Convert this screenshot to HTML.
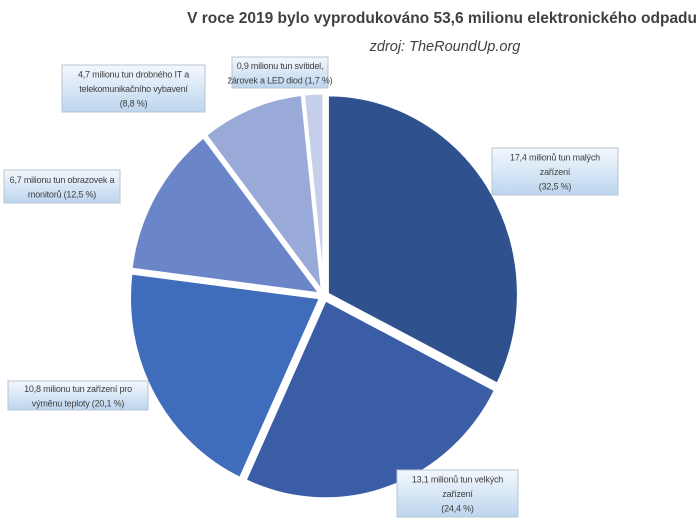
<!DOCTYPE html>
<html><head><meta charset="utf-8"><style>
body{margin:0;background:#fff;}
svg{display:block;font-family:"Liberation Sans",sans-serif;}
</style></head><body>
<svg id="chart" width="700" height="526" viewBox="0 0 700 526">
<defs><linearGradient id="lg" x1="0" y1="0" x2="0" y2="1"><stop offset="0" stop-color="#f4f8fd"/><stop offset="1" stop-color="#bcd5ee"/></linearGradient></defs>
<text x="697" y="23" text-anchor="end" font-size="15.5" font-weight="bold" fill="#404040">V roce 2019 bylo vyprodukováno 53,6 milionu elektronického odpadu</text>
<text x="445" y="51" text-anchor="middle" font-size="14.5" font-style="italic" fill="#404040">zdroj: TheRoundUp.org</text>
<g id="slices"></g>
<g id="labels"></g>
</svg>
<script>
const categories=["17,4 milionů tun malých zařízení","13,1 milionů tun velkých zařízení","10,8 milionu tun zařízení pro výměnu teploty","6,7 milionu tun obrazovek a monitorů","4,7 milionu tun drobného IT a telekomunikačního vybavení","0,9 milionu tun svítidel, žárovek a LED diod"];
const values=[32.5,24.4,20.1,12.5,8.8,1.7];
const colors=["#2f528f","#3a5da6","#406dbb","#6b86c8","#9aaad8","#c5cfe9"];
const labelLines=[["17,4 milionů tun malých","zařízení","(32,5 %)"],["13,1 milionů tun velkých","zařízení","(24,4 %)"],["10,8 milionu tun zařízení pro","výměnu teploty (20,1 %)"],["6,7 milionu tun obrazovek a","monitorů (12,5 %)"],["4,7 milionu tun drobného IT a","telekomunikačního vybavení","(8,8 %)"],["0,9 milionu tun svítidel,","žárovek a LED diod (1,7 %)"]];
const boxes=[[492,148,126,47],[397,470,121,47],[8,381,140,29],[4,170,116,33],[62,65,143,47],[232,57,96,31]];
const cx=324,cy=296,rx=191,ry=199,ex=4;
const NS="http://www.w3.org/2000/svg";
const total=values.reduce((a,b)=>a+b,0);
let a0=-Math.PI/2;
const gs=document.getElementById('slices'),gl=document.getElementById('labels');
values.forEach((v,i)=>{
  const a1=a0+v/total*2*Math.PI, am=(a0+a1)/2;
  const ox=cx+ex*Math.cos(am), oy=cy+ex*Math.sin(am);
  const x0=ox+rx*Math.cos(a0),y0=oy+ry*Math.sin(a0),x1=ox+rx*Math.cos(a1),y1=oy+ry*Math.sin(a1);
  const p=document.createElementNS(NS,'path');
  p.setAttribute('d',`M${ox},${oy}L${x0},${y0}A${rx},${ry} 0 ${a1-a0>Math.PI?1:0} 1 ${x1},${y1}Z`);
  p.setAttribute('fill',colors[i]);p.setAttribute('stroke','#fff');p.setAttribute('stroke-width','3');
  
  
  gs.appendChild(p);
  const b=boxes[i];
  const g=document.createElementNS(NS,'g');
  
  
  const r=document.createElementNS(NS,'rect');
  r.setAttribute('x',b[0]);r.setAttribute('y',b[1]);r.setAttribute('width',b[2]);r.setAttribute('height',b[3]);
  r.setAttribute('fill','url(#lg)');r.setAttribute('stroke','#b8c4d0');r.setAttribute('stroke-width','1');
  g.appendChild(r);
  const L=labelLines[i];const lh=14.5;const sy=b[1]+b[3]/2-(L.length-1)*lh/2+3.5;
  L.forEach((t,j)=>{const tx=document.createElementNS(NS,'text');tx.setAttribute('x',b[0]+b[2]/2);tx.setAttribute('y',sy+j*lh);
    tx.setAttribute('text-anchor','middle');tx.setAttribute('font-size','9');tx.setAttribute('letter-spacing','-0.2');tx.setAttribute('fill','#404040');tx.textContent=t;g.appendChild(tx);});
  gl.appendChild(g);
  a0=a1;
});
</script>
</body></html>
